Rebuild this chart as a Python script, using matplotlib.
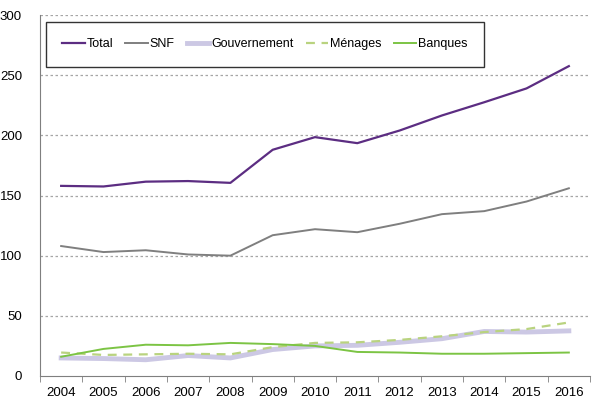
import matplotlib
matplotlib.use("Agg")
import matplotlib.pyplot as plt
import numpy as np

plt.rcParams['font.family'] = ['Liberation Sans', 'DejaVu Sans']

years = ["2004", "2005", "2006", "2007", "2008", "2009", "2010", "2011", "2012", "2013", "2014", "2015", "2016"]
total = [158, 157.5, 161.5, 162, 160.5, 188, 198.5, 193.5, 204, 216.5, 227.5, 239, 257.5]
snf = [108, 103, 104.5, 101, 100, 117, 122, 119.5, 126.5, 134.5, 137, 145, 156]
gouvernement = [15, 14.5, 13.5, 17, 15, 22, 25, 25.5, 28, 31, 37, 36.5, 37.5]
menages = [19.5, 17.5, 18, 18.5, 18, 24, 27.5, 28, 30, 33, 36.5, 39, 44.5]
banques = [16, 22.5, 26, 25.5, 27.5, 26.5, 25, 20, 19.5, 18.5, 18.5, 19, 19.5]

fig = plt.figure(figsize=(5.92, 4.01), dpi=100)
ax = fig.add_axes([40/592, 1-376/401, 550/592, 361/401])
x = np.arange(len(years))

ax.plot(x, total, color='#5c2d82', lw=1.6, label='Total', zorder=5)
ax.plot(x, snf, color='#7f7f7f', lw=1.4, label='SNF', zorder=4)
ax.plot(x, gouvernement, color='#ccc8e4', lw=3.5, label='Gouvernement', zorder=2)
ax.plot(x, menages, color='#b9d37f', lw=1.6, ls=(0, (4, 3)), label='Ménages', zorder=3)
ax.plot(x, banques, color='#7cc444', lw=1.4, label='Banques', zorder=3)

ax.set_xlim(-0.5, len(years) - 0.5)
ax.set_ylim(0, 300)
ax.set_yticks(np.arange(0, 301, 50))
ax.set_xticks(x)
ax.set_xticklabels(years)
ax.set_xticks(np.arange(-0.5, len(years), 1), minor=True)
ax.tick_params(axis='x', which='major', length=0, labelsize=9.5, pad=8, colors='black')
ax.tick_params(axis='x', which='minor', length=4, color='#7f7f7f', direction='out')
ax.tick_params(axis='y', length=0, labelsize=9.5, pad=13)

for v in range(50, 301, 50):
    ax.axhline(v, color='#a6a6a6', lw=0.9, ls=(0, (2, 2)), zorder=0)

for s in ['top', 'right']:
    ax.spines[s].set_visible(False)
ax.spines['left'].set_color('#7f7f7f')
ax.spines['bottom'].set_color('#7f7f7f')

leg = ax.legend(loc='upper left', bbox_to_anchor=(6/550, 1-7/361), borderaxespad=0,
                ncol=5, frameon=True, fancybox=False, edgecolor='black', fontsize=9,
                handlelength=1.8, handletextpad=0.12, columnspacing=1.0, borderpad=1.3)
leg.get_frame().set_linewidth(1.0)

fig.savefig('out.png', dpi=100)
